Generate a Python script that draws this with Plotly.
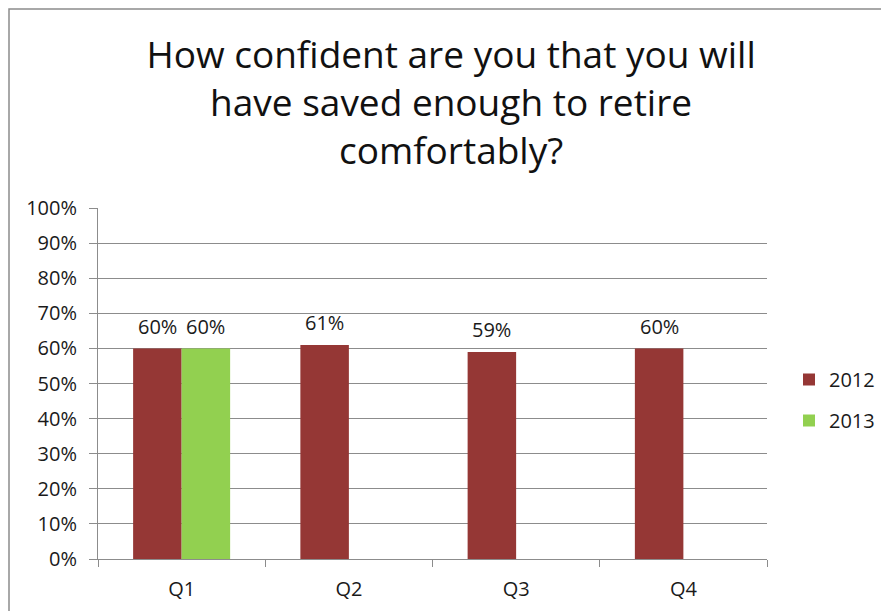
import plotly.graph_objects as go

categories = ["Q1", "Q2", "Q3", "Q4"]
values_2012 = [0.60, 0.61, 0.59, 0.60]
values_2013 = [0.60, None, None, None]
y_ticks = [0, 0.1, 0.2, 0.3, 0.4, 0.5, 0.6, 0.7, 0.8, 0.9, 1.0]

FONT = "Open Sans"
GRID = "#8c8c8c"
TXT = "#1a1a1a"

W, H = 881, 611
L, R, T, B = 98, 114, 208, 52
pw, ph = W - L - R, H - T - B
BARGAP = 0.42
bar_px = pw / len(categories) * (1 - BARGAP) / 2

fig = go.Figure()
fig.add_trace(go.Bar(
    x=categories, y=values_2012, name="2012",
    marker=dict(color="#953735", line=dict(width=0)),
    legendgroup="a",
))
fig.add_trace(go.Bar(
    x=categories, y=values_2013, name="2013",
    marker=dict(color="#92D050", line=dict(width=0)),
    legendgroup="b",
))

# Value labels above each bar
for series, shift in ((values_2012, -bar_px / 2), (values_2013, bar_px / 2)):
    for cat, v in zip(categories, series):
        if v is None:
            continue
        fig.add_annotation(
            x=cat, y=v, xref="x", yref="y", text=f"{v:.0%}",
            showarrow=False, xshift=shift, yshift=22, yanchor="middle",
            font=dict(family=FONT, size=20, color=TXT),
        )

fig.update_layout(
    width=W, height=H,
    margin=dict(l=L, r=R, t=T, b=B, autoexpand=False),
    paper_bgcolor="white", plot_bgcolor="white",
    barmode="group", bargap=BARGAP, bargroupgap=0,
    title=dict(
        text="How confident are you that you will<br>have saved enough to retire<br>comfortably?",
        x=0.512, xanchor="center", y=1 - 68 / H, yanchor="middle",
        font=dict(family=FONT, size=37, color="#111"),
    ),
    font=dict(family=FONT, color=TXT),
    legend=dict(
        x=(789 - L) / pw, xanchor="left", y=(H - B - 400) / ph, yanchor="middle",
        font=dict(family=FONT, size=20, color=TXT),
        tracegroupgap=12, traceorder="grouped",
    ),
    showlegend=True,
)
fig.update_xaxes(
    type="category", showgrid=False, showline=True, linecolor=GRID, linewidth=1,
    ticks="outside", tickson="boundaries", ticklen=7, tickcolor=GRID,
    ticklabelstandoff=12, automargin=False,
    tickfont=dict(family=FONT, size=20, color=TXT),
)
fig.update_yaxes(
    range=[0, 1], tickvals=y_ticks, tickformat=".0%",
    showgrid=True, gridcolor=GRID, gridwidth=1,
    showline=True, linecolor=GRID, linewidth=1,
    ticks="outside", ticklen=8, tickcolor=GRID,
    ticklabelstandoff=8, automargin=False,
    tickfont=dict(family=FONT, size=20, color=TXT),
    zeroline=False,
)

# Chart frame (top and left edges visible, extending past the page)
fig.add_shape(
    type="rect", xref="paper", yref="paper",
    x0=(9 - L) / pw, x1=(W + 20 - L) / pw,
    y0=-(B + 20) / ph, y1=(H - B - 9) / ph,
    line=dict(color="#8c8c8c", width=1.5), fillcolor="rgba(0,0,0,0)", layer="below",
)

fig.write_html("out.html")
